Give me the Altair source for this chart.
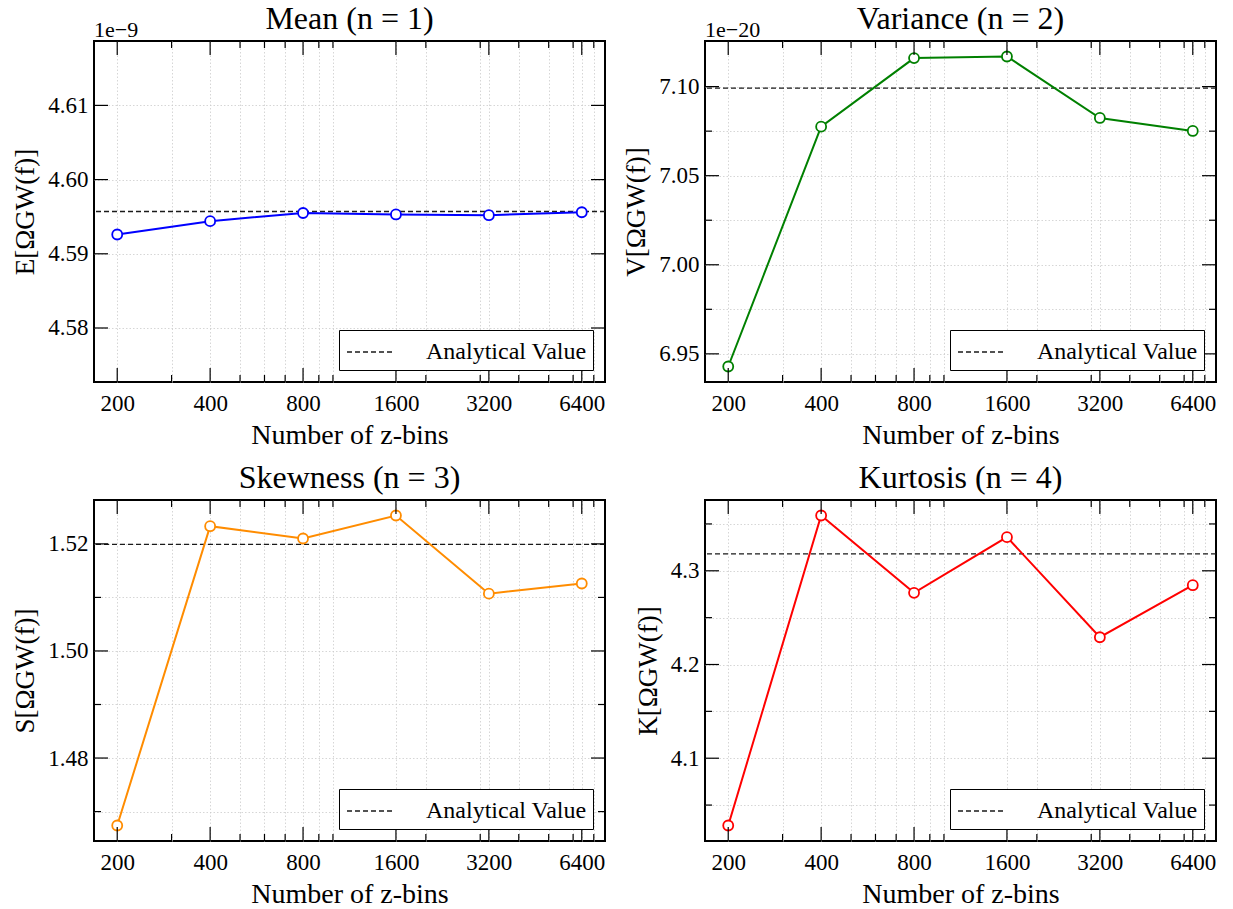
import altair as alt
import pandas as pd

# ---------------- data ----------------
N_BINS = [200, 400, 800, 1600, 3200, 6400]
MEAN = [4.5926, 4.5944, 4.5955, 4.5953, 4.5952, 4.5956]      # x 1e-9
VAR = [6.9429, 7.0775, 7.1160, 7.1169, 7.0824, 7.0751]       # x 1e-20
SKEW = [1.4674, 1.5233, 1.5210, 1.5253, 1.5107, 1.5126]
KURT = [4.0282, 4.3590, 4.2765, 4.3359, 4.2291, 4.2846]
ANALYTIC = [4.5957, 7.0991, 1.5199, 4.3181]

TITLES = ["Mean (n = 1)", "Variance (n = 2)", "Skewness (n = 3)", "Kurtosis (n = 4)"]
YLABELS = ["E[ΩGW(f)]", "V[ΩGW(f)]", "S[ΩGW(f)]", "K[ΩGW(f)]"]
OFFSETS = ["1e−9", "1e−20", "", ""]
COLORS = ["#0000ff", "#008000", "#ff8c00", "#ff0000"]

X_MAJOR = [200, 400, 800, 1600, 3200, 6400]
X_MINOR = [300, 500, 600, 700, 900, 1000, 2000, 3000, 4000, 5000, 6000, 7000]
Y_MAJOR = [[4.58, 4.59, 4.60, 4.61], [6.95, 7.00, 7.05, 7.10], [1.48, 1.50, 1.52], [4.1, 4.2, 4.3]]
Y_MINOR = [[], [6.975, 7.025, 7.075], [1.47, 1.49, 1.51], [4.05, 4.15, 4.25, 4.35]]
Y_FMT = [".2f", ".2f", ".2f", ".1f"]
LEGEND_LABEL = "Analytical Value"
X_TITLE = "Number of z-bins"

# ---------------- layout / style ----------------
W, H = 511, 341
FONT = "Liberation Serif"
MAJ_LEN, MIN_LEN = 14, 7


def js_list(vals):
    return "[" + ",".join(repr(v) for v in vals) + "]"


def y_domain(i, vals):
    if i == 0:
        a = ANALYTIC[0]
        return [a * 0.995, a * 1.005]
    lo, hi = min(vals), max(vals)
    m = 0.05 * (hi - lo)
    return [lo - m, hi + m]


x_domain = [N_BINS[0] / 2 ** 0.25, N_BINS[-1] * 2 ** 0.25]


def panel(i, vals):
    xs = alt.Scale(type="log", base=2, domain=x_domain, nice=False)
    ys = alt.Scale(domain=y_domain(i, vals), nice=False, zero=False)
    xaxis = alt.Axis(
        values=sorted(X_MAJOR + X_MINOR),
        labelExpr=f"indexof({js_list(X_MAJOR)}, datum.value) >= 0 ? datum.label : ''",
        format="d", title=X_TITLE, grid=True,
    )
    yaxis = alt.Axis(
        values=sorted(Y_MAJOR[i] + Y_MINOR[i]),
        labelExpr=f"indexof({js_list(Y_MAJOR[i])}, datum.value) >= 0 ? datum.label : ''",
        format=Y_FMT[i], title=YLABELS[i], grid=True,
    )
    X = alt.X("n:Q", scale=xs, axis=xaxis)
    Y = alt.Y("v:Q", scale=ys, axis=yaxis)

    df = pd.DataFrame({"n": N_BINS, "v": vals})
    ref = pd.DataFrame({"v": [ANALYTIC[i]], "lab": [LEGEND_LABEL]})

    layers = []
    layers.append(
        alt.Chart(ref).mark_rule(strokeDash=[5, 3], strokeWidth=1.3).encode(
            y=Y,
            color=alt.Color(
                "lab:N",
                scale=alt.Scale(range=["#1a1a1a"]),
                legend=alt.Legend(
                    title=None, orient="bottom-right", offset=12, padding=6,
                    strokeColor="black", fillColor="white", cornerRadius=0,
                    labelFont=FONT, labelFontSize=24, labelColor="black",
                    labelLimit=400, labelOffset=39,
                    symbolType="M-1.6,0H1.6", symbolSize=900, symbolStrokeWidth=1.3,
                    symbolDash=[5, 3], symbolOffset=10,
                ),
            ),
        )
    )
    layers.append(alt.Chart(df).mark_line(color=COLORS[i], strokeWidth=2).encode(x=X, y=Y))
    layers.append(
        alt.Chart(df).mark_point(
            shape="circle", size=100, fill="white", fillOpacity=1, opacity=1,
            stroke=COLORS[i], strokeWidth=1.8,
        ).encode(x=X, y=Y)
    )

    # inward ticks on all four sides
    for tv, ln in ((Y_MAJOR[i], MAJ_LEN), (Y_MINOR[i], MIN_LEN)):
        if not tv:
            continue
        d = pd.DataFrame({"v": tv})
        b = alt.Chart(d).mark_rule(color="black", strokeWidth=1.2)
        layers.append(b.encode(y=Y, x=alt.value(0), x2=alt.value(ln)))
        layers.append(b.encode(y=Y, x=alt.value(W), x2=alt.value(W - ln)))
    for tv, ln in ((X_MAJOR, MAJ_LEN), (X_MINOR, MIN_LEN)):
        d = pd.DataFrame({"n": tv})
        b = alt.Chart(d).mark_rule(color="black", strokeWidth=1.2)
        layers.append(b.encode(x=X, y=alt.value(H), y2=alt.value(H - ln)))
        layers.append(b.encode(x=X, y=alt.value(0), y2=alt.value(ln)))

    # panel title and scale-offset text
    layers.append(
        alt.Chart(pd.DataFrame({"t": [TITLES[i]]})).mark_text(
            align="center", baseline="alphabetic", fontSize=32, font=FONT, color="black"
        ).encode(text="t:N", x=alt.value(W / 2), y=alt.value(-12))
    )
    if OFFSETS[i]:
        layers.append(
            alt.Chart(pd.DataFrame({"t": [OFFSETS[i]]})).mark_text(
                align="left", baseline="alphabetic", fontSize=22, font=FONT, color="black"
            ).encode(text="t:N", x=alt.value(0), y=alt.value(-4))
        )

    return alt.layer(*layers).properties(width=W, height=H)


panels = [panel(i, v) for i, v in enumerate([MEAN, VAR, SKEW, KURT])]

chart = (
    alt.concat(*panels, columns=2, spacing=alt.RowColnumber(row=118, column=100), bounds="flush")
    .resolve_scale(color="independent")
    .resolve_legend(color="independent")
    .properties(padding={"left": 10, "top": 2, "right": 10, "bottom": 5}, background="white")
    .configure(font=FONT)
    .configure_view(stroke="black", strokeWidth=2)
    .configure_axis(
        domain=False, ticks=False, labelFont=FONT, labelFontSize=23, labelColor="black",
        titleFont=FONT, titleFontSize=27, titleFontWeight="normal", titleColor="black",
        gridColor="#cccccc", gridDash=[1.5, 2], gridWidth=0.8, labelOverlap=False,
    )
    .configure_axisX(labelPadding=10, titlePadding=6, titleFontSize=28)
    .configure_axisY(labelPadding=6, titlePadding=8)
)

chart.save("out.html", embed_options={"renderer": "svg", "actions": False})
